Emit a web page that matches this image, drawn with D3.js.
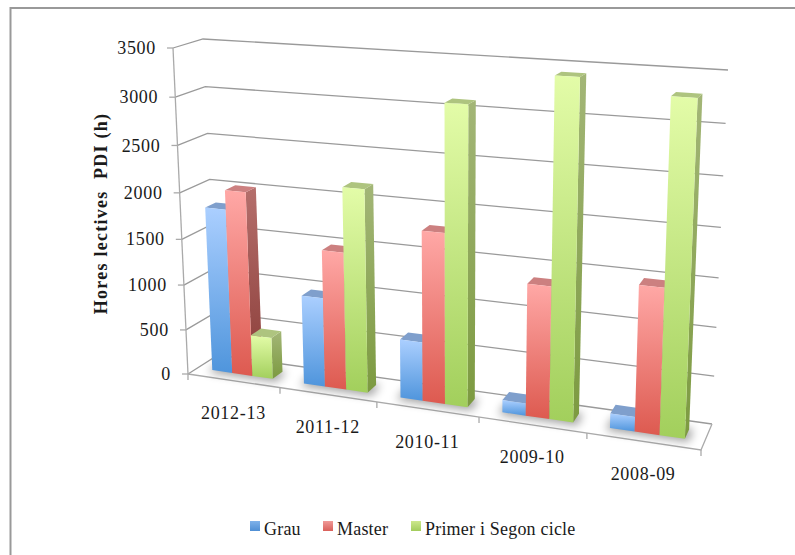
<!DOCTYPE html>
<html><head><meta charset="utf-8">
<script src="https://cdn.jsdelivr.net/npm/d3@7/dist/d3.min.js"></script>
<style>html,body{margin:0;padding:0;background:#fff}svg{display:block}text{font-family:"Liberation Serif",serif;fill:#1a1a1a}</style>
</head><body><svg id="c" width="795" height="555"></svg>
<script>
const categories = ["2012-13","2011-12","2010-11","2009-10","2008-09"];
const seriesNames = ["Grau","Master","Primer i Segon cicle"];
const grau = [1811,970,630,130,150];
const master = [2020,1485,1800,1373,1485];
const primer = [460,2168,3097,3426,3302];
const seriesValues = [grau,master,primer];
const valueTicks = [0,500,1000,1500,2000,2500,3000,3500];
const palette = [
 {hi:"#abcfff",lo:"#4f95dc",side:["#7f9bc4","#4f78a8"],top:"#7f9fcc",key:["#7fb2ea","#4f8fd4"]},
 {hi:"#ffa8a6",lo:"#dd5a50",side:["#b56f6c","#8a3c38"],top:"#cc8080",key:["#f09a98","#d9605a"]},
 {hi:"#e3fca8",lo:"#a2cf5c",side:["#a3b677","#7c9a40"],top:"#aec47f",key:["#cde88c","#a2cc5c"]}
];
// projected corners of the chart box: f/b = front/back, l/r = left/right, 0/1 = floor/top
const box = {fl0:[188,374],fr0:[701,450],bl0:[218,355],br0:[712,424],
             fl1:[173,48],fr1:[715,81],bl1:[203,39],br1:[728,70]};
const persp = -0.126, perspH = -0.062;
const lerp = (a,b,t)=>[a[0]+(b[0]-a[0])*t,a[1]+(b[1]-a[1])*t];
function project(u,v,h){
  const p = u*(1+persp)/(1+persp*u);
  const q = h*(1+perspH)/(1+perspH*h);
  const f0=lerp(box.fl0,box.fr0,p), b0=lerp(box.bl0,box.br0,p);
  const f1=lerp(box.fl1,box.fr1,p), b1=lerp(box.bl1,box.br1,p);
  return lerp(lerp(f0,b0,v),lerp(f1,b1,v),q);
}
const yS = d3.scaleLinear().domain([0,3500]).range([0,1]);
const xS = d3.scaleBand().domain(categories).range([0,1]);
const sS = d3.scaleBand().domain(d3.range(3)).range([0.165,0.83]);
const vFront=0.32, vBack=0.68;
const line = d3.line();
const svg = d3.select("#c");
const defs = svg.append("defs");
const f = defs.append("filter").attr("id","sh").attr("x","-30%").attr("y","-30%").attr("width","160%").attr("height","160%");
f.append("feGaussianBlur").attr("stdDeviation",5);
palette.forEach((c,i)=>{
  const g=(id,a,b)=>{const l=defs.append("linearGradient").attr("id",id).attr("x1",0).attr("y1",0).attr("x2",0).attr("y2",1);
    l.append("stop").attr("offset",0).attr("stop-color",a);l.append("stop").attr("offset",1).attr("stop-color",b);};
  g("front"+i,c.hi,c.lo);g("side"+i,c.side[0],c.side[1]);g("key"+i,c.key[0],c.key[1]);
});
// outer frame
svg.append("path").attr("d",line([[10.5,555],[10.5,8],[795,8]])).attr("fill","none").attr("stroke","#999").attr("stroke-width",2);
// floor
const poly=(g,pts)=>g.append("path").attr("d",line(pts)+"Z");
const grid="#9a9a9a";
poly(svg,[project(0,0,0),project(1,0,0),project(1,1,0),project(0,1,0)]).attr("fill","#fff");
// walls gridlines
const gl=svg.append("g").attr("fill","none").attr("stroke",grid).attr("stroke-width",1.3);
valueTicks.forEach(t=>{
  const h=yS(t);
  gl.append("path").attr("d",line([project(0,0,h),project(0,1,h),project(1,1,h)]));
});
// axes
const ax=svg.append("g").attr("fill","none").attr("stroke","#aaa").attr("stroke-width",1.3);
ax.append("path").attr("d",line([project(0,0,0),project(0,0,1)]));
ax.append("path").attr("d",line([project(0,0,0),project(1,0,0),project(1,1,0)]));
valueTicks.forEach(t=>{const p=project(0,0,yS(t));ax.append("path").attr("d",line([[p[0]-6,p[1]],p]));});
d3.range(categories.length+1).forEach(i=>{const p=project(i/categories.length,0,0);ax.append("path").attr("d",line([p,[p[0],p[1]+6]]));});
// bar faces
const shadow=svg.append("g").attr("filter","url(#sh)").attr("fill","#000").attr("opacity",0.38);
const bars=svg.append("g");
categories.forEach((cat,ci)=>{
  const u0=xS(cat), w=xS.bandwidth();
  const a=u0+w*sS(0), b=u0+w*(sS(2)+sS.bandwidth());
  const p1=project(a,vFront,0),p2=project(b,vFront,0),p3=project(b,vBack,0),p4=project(a,vBack,0);
  poly(shadow,[[p1[0]-4,p1[1]+2],[p2[0]+4,p2[1]+3],[p3[0]+4,p3[1]],[p4[0]-2,p4[1]-2]]);
  seriesValues.forEach((vals,si)=>{
    const h=yS(vals[ci]);
    const x0=u0+w*sS(si), x1=x0+w*sS.bandwidth();
    const g=bars.append("g");
    poly(g,[project(x1,vFront,0),project(x1,vBack,0),project(x1,vBack,h),project(x1,vFront,h)]).attr("fill",`url(#side${si})`);
    poly(g,[project(x0,vFront,h),project(x1,vFront,h),project(x1,vBack,h),project(x0,vBack,h)]).attr("fill",palette[si].top);
    poly(g,[project(x0,vFront,0),project(x1,vFront,0),project(x1,vFront,h),project(x0,vFront,h)]).attr("fill",`url(#front${si})`);
  });
});
// value labels
valueTicks.forEach(t=>{const p=project(0,0,yS(t));
  svg.append("text").attr("x",p[0]-17).attr("y",p[1]+2).attr("text-anchor","end").attr("dominant-baseline","middle").attr("font-size",18).attr("letter-spacing",0.7).text(d3.format("d")(t));});
// category labels
categories.forEach((cat,i)=>{
  const p=project(xS(cat)+xS.bandwidth()*0.5,0,0);
  svg.append("text").attr("x",p[0]).attr("y",p[1]+34).attr("text-anchor","middle").attr("dominant-baseline","middle").attr("font-size",18).attr("letter-spacing",0.7).text(cat);
});
// axis title
svg.append("text").attr("transform","translate(107,213.5) rotate(-90)").attr("text-anchor","middle").attr("font-size",18).attr("font-weight","bold").attr("letter-spacing",1.25).style("white-space","pre").text("Hores lectives  PDI (h)");
// legend
const legendX=[250,323,411];
seriesNames.forEach((n,i)=>{
  svg.append("rect").attr("x",legendX[i]).attr("y",521).attr("width",10).attr("height",10).attr("fill",`url(#key${i})`);
  svg.append("text").attr("x",legendX[i]+14).attr("y",535).attr("font-size",18).attr("letter-spacing",0.2).text(n);
});
</script></body></html>
